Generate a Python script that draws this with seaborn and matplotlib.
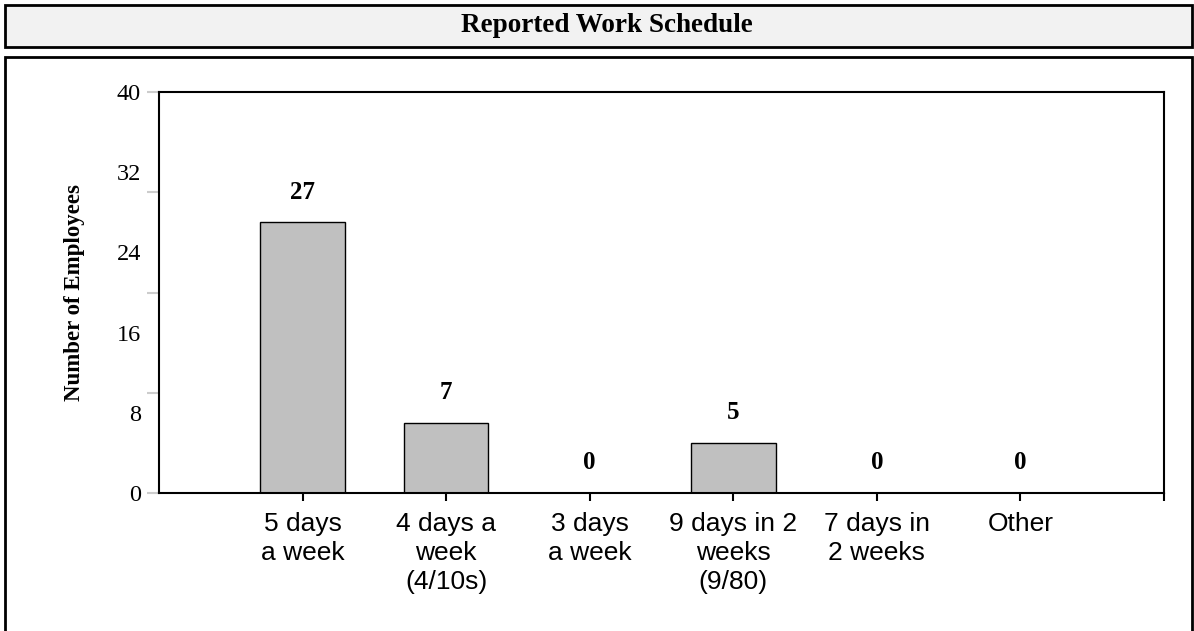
import matplotlib
matplotlib.use("Agg")
import matplotlib.pyplot as plt
import seaborn as sns
import pandas as pd
from matplotlib.patches import Rectangle

# dados
categorias = ["5 days\na week", "4 days a\nweek\n(4/10s)", "3 days\na week",
              "9 days in 2\nweeks\n(9/80)", "7 days in\n2 weeks", "Other"]
valores = [27, 7, 0, 5, 0, 0]
posicoes_y = [0, 8, 16, 24, 32, 40]
marcas_y = [0, 10, 20, 30, 40]

df = pd.DataFrame({"cat": categorias, "n": valores})

sns.set_style("white")
plt.rcParams["text.color"] = "black"
plt.rcParams["xtick.color"] = "black"
plt.rcParams["ytick.color"] = "black"
plt.rcParams["axes.labelcolor"] = "black"
serif = ["Liberation Serif", "DejaVu Serif"]
sans = ["Liberation Sans", "DejaVu Sans"]

fig = plt.figure(figsize=(11.94, 6.31), dpi=100)

# caixas de fundo
fig.patches.append(Rectangle((5 / 1194, 1 - 47 / 631), 1187 / 1194, 42 / 631,
                             transform=fig.transFigure, facecolor="#f2f2f2",
                             edgecolor="black", linewidth=2, zorder=-5))
fig.patches.append(Rectangle((5 / 1194, -0.05), 1187 / 1194, 0.05 + 1 - 57 / 631,
                             transform=fig.transFigure, facecolor="white",
                             edgecolor="black", linewidth=2, zorder=-5))
fig.text(0.508, 1 - 26 / 631, "Reported Work Schedule", ha="center", va="center",
         fontsize=19.5, fontweight="bold", family=serif)

ax = fig.add_axes([159 / 1194, 1 - 493 / 631, (1164 - 159) / 1194, (493 - 92) / 631])
ax.set_facecolor("none")

sns.barplot(data=df, x="cat", y="n", color="#c0c0c0", edgecolor="black",
            linewidth=1, width=0.59, saturation=1, ax=ax)

for i, v in enumerate(valores):
    ax.text(i, v + 3, str(v), ha="center", va="center", fontsize=18,
            fontweight="bold", family=serif)

ax.set_xlim(-1, 6)
ax.set_ylim(0, 40)

ax.set_yticks(posicoes_y)
ax.set_yticklabels([str(p) for p in posicoes_y], family=serif, fontsize=17.5)
ax.tick_params(axis="y", which="major", length=0, pad=13)
ax.set_yticks(marcas_y, minor=True)
ax.yaxis.remove_overlapping_locs = False
ax.tick_params(axis="y", which="minor", length=9, width=1.5, color="#cccccc", left=True)

ax.set_xticks(range(len(categorias)))
ax.set_xticklabels(categorias, family=sans, fontsize=19, linespacing=1.28)
ax.tick_params(axis="x", which="major", length=6, width=1.5, color="black",
               bottom=True, pad=7.5)
ax.set_xticks([6], minor=True)
ax.tick_params(axis="x", which="minor", length=6, width=1.5, color="black", bottom=True)

ax.set_xlabel("")
ax.set_ylabel("Number of Employees", family=serif, fontsize=16.5, fontweight="bold")
ax.yaxis.set_label_coords(-0.074, 0.5)

for s in ax.spines.values():
    s.set_visible(True)
    s.set_color("black")
    s.set_linewidth(1.5)

fig.savefig("out.png", dpi=100)
